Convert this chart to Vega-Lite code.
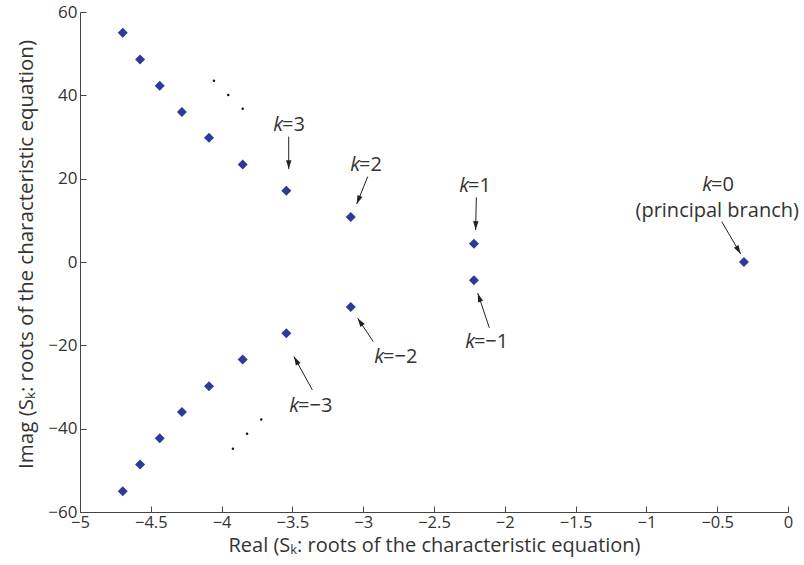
{
  "$schema": "https://vega.github.io/schema/vega-lite/v6.json",
  "autosize": "none",
  "width": 708,
  "height": 500,
  "padding": {"left": 80, "top": 12, "right": 16, "bottom": 53},
  "config": {
    "view": {"stroke": null},
    "font": "Open Sans",
    "axis": {"domainColor": "#444", "tickColor": "#444", "labelColor": "#333", "titleColor": "#333", "grid": false, "labelFont": "Open Sans", "titleFont": "Open Sans", "titleFontWeight": "normal"}
  },
  "datasets": {
    "roots": [
      {"re": -4.698, "im": 55.0, "kind": "root"},
      {"re": -4.576, "im": 48.6, "kind": "root"},
      {"re": -4.437, "im": 42.3, "kind": "root"},
      {"re": -4.280, "im": 36.0, "kind": "root"},
      {"re": -4.089, "im": 29.8, "kind": "root"},
      {"re": -3.851, "im": 23.4, "kind": "root"},
      {"re": -3.543, "im": 17.1, "kind": "root"},
      {"re": -3.088, "im": 10.8, "kind": "root"},
      {"re": -2.218, "im": 4.4, "kind": "root"},
      {"re": -0.311, "im": 0.0, "kind": "root"},
      {"re": -2.218, "im": -4.4, "kind": "root"},
      {"re": -3.088, "im": -10.8, "kind": "root"},
      {"re": -3.543, "im": -17.1, "kind": "root"},
      {"re": -3.851, "im": -23.4, "kind": "root"},
      {"re": -4.089, "im": -29.8, "kind": "root"},
      {"re": -4.280, "im": -36.0, "kind": "root"},
      {"re": -4.437, "im": -42.3, "kind": "root"},
      {"re": -4.576, "im": -48.6, "kind": "root"},
      {"re": -4.698, "im": -55.0, "kind": "root"},
      {"re": -4.054, "im": 43.5, "kind": "dot"},
      {"re": -3.953, "im": 40.1, "kind": "dot"},
      {"re": -3.851, "im": 36.8, "kind": "dot"},
      {"re": -3.920, "im": -44.8, "kind": "dot"},
      {"re": -3.820, "im": -41.2, "kind": "dot"},
      {"re": -3.720, "im": -37.8, "kind": "dot"}
    ],
    "labels": [
      {"re": -3.573, "im": 31.4, "num": "=3"},
      {"re": -3.030, "im": 21.8, "num": "=2"},
      {"re": -2.260, "im": 16.9, "num": "=1"},
      {"re": -0.544, "im": 17.1, "num": "=0"},
      {"re": -2.218, "im": -20.7, "num": "=−1"},
      {"re": -2.860, "im": -24.3, "num": "=−2"},
      {"re": -3.460, "im": -35.9, "num": "=−3"}
    ],
    "arrows": [
      {"x1": -3.526, "y1": 30.1, "x2": -3.526, "y2": 22.3},
      {"x1": -2.968, "y1": 20.5, "x2": -3.046, "y2": 13.9},
      {"x1": -2.201, "y1": 15.5, "x2": -2.206, "y2": 7.7},
      {"x1": -0.468, "y1": 9.7, "x2": -0.334, "y2": 1.9},
      {"x1": -2.109, "y1": -15.8, "x2": -2.191, "y2": -7.5},
      {"x1": -2.929, "y1": -19.1, "x2": -3.039, "y2": -13.5},
      {"x1": -3.359, "y1": -30.7, "x2": -3.489, "y2": -22.7}
    ]
  },
  "layer": [
    {
      "data": {"name": "roots"},
      "transform": [{"filter": "datum.kind === 'root'"}],
      "mark": {"type": "point", "shape": "diamond", "filled": true, "size": 100, "color": "#2e3a97", "opacity": 1},
      "encoding": {
        "x": {"field": "re", "type": "quantitative", "scale": {"domain": [-5, 0], "nice": false, "zero": false},
          "axis": {"title": "Real (Sₖ: roots of the characteristic equation)", "values": [-5, -4.5, -4, -3.5, -3, -2.5, -2, -1.5, -1, -0.5, 0], "format": "~g", "tickSize": -6, "labelPadding": 8, "labelFontSize": 16.5, "titleFontSize": 20, "titlePadding": 5, "labelFlush": false, "labelOverlap": false}},
        "y": {"field": "im", "type": "quantitative", "scale": {"domain": [-60, 60], "nice": false, "zero": false},
          "axis": {"title": "Imag (Sₖ: roots of the characteristic equation)", "values": [-60, -40, -20, 0, 20, 40, 60], "tickSize": -6, "labelPadding": 9, "labelFontSize": 17, "titleFontSize": 20.5, "titlePadding": 11, "titleY": 242, "labelFlush": false, "labelOverlap": false}}
      }
    },
    {
      "data": {"name": "roots"},
      "transform": [{"filter": "datum.kind === 'dot'"}],
      "mark": {"type": "point", "shape": "circle", "filled": true, "size": 6, "color": "#111", "opacity": 1},
      "encoding": {
        "x": {"field": "re", "type": "quantitative"},
        "y": {"field": "im", "type": "quantitative"}
      }
    },
    {
      "data": {"name": "arrows"},
      "mark": {"type": "rule", "color": "#222", "strokeWidth": 1},
      "encoding": {
        "x": {"field": "x1", "type": "quantitative"},
        "y": {"field": "y1", "type": "quantitative"},
        "x2": {"field": "x2"},
        "y2": {"field": "y2"}
      }
    },
    {
      "data": {"name": "arrows"},
      "transform": [{"calculate": "atan2((datum.x2 - datum.x1) * 141.6, (datum.y2 - datum.y1) * 4.167) * 180 / PI", "as": "ang"}],
      "mark": {"type": "point", "shape": "M0,0L-0.38,1.25L0.38,1.25Z", "filled": true, "size": 200, "color": "#222", "opacity": 1},
      "encoding": {
        "x": {"field": "x2", "type": "quantitative"},
        "y": {"field": "y2", "type": "quantitative"},
        "angle": {"field": "ang", "type": "quantitative", "scale": null}
      }
    },
    {
      "data": {"name": "labels"},
      "mark": {"type": "text", "text": "k", "fontStyle": "italic", "fontSize": 20, "align": "right", "baseline": "alphabetic", "color": "#333", "font": "Open Sans", "dx": 1},
      "encoding": {
        "x": {"field": "re", "type": "quantitative"},
        "y": {"field": "im", "type": "quantitative"}
      }
    },
    {
      "data": {"name": "labels"},
      "mark": {"type": "text", "fontSize": 20, "align": "left", "baseline": "alphabetic", "color": "#333", "font": "Open Sans"},
      "encoding": {
        "x": {"field": "re", "type": "quantitative"},
        "y": {"field": "im", "type": "quantitative"},
        "text": {"field": "num"}
      }
    },
    {
      "data": {"values": [{"re": -0.5, "im": 10.9, "txt": "(principal branch)"}]},
      "mark": {"type": "text", "fontSize": 20, "align": "center", "baseline": "alphabetic", "color": "#333", "font": "Open Sans"},
      "encoding": {
        "x": {"field": "re", "type": "quantitative"},
        "y": {"field": "im", "type": "quantitative"},
        "text": {"field": "txt"}
      }
    }
  ]
}
